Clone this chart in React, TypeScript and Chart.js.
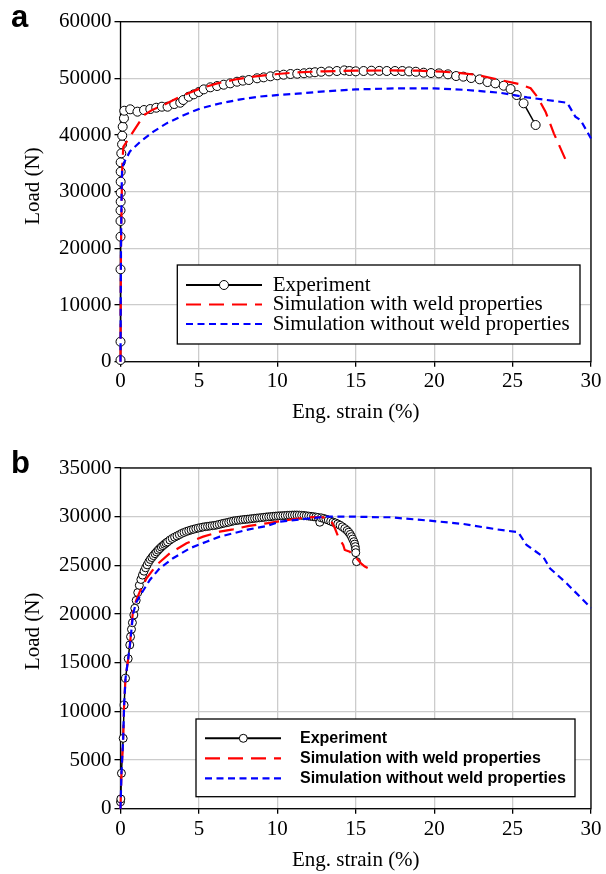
import React, { useEffect, useRef } from 'react';
import { Chart, registerables } from 'chart.js';

Chart.register(...registerables);

const SERIF = "'Liberation Serif', 'Times New Roman', Times, serif";
const SANS = "'Liberation Sans', Arial, Helvetica, sans-serif";
const GRID = '#cccccc';

// ---------- shared labels / ticks ----------
const seriesLabels = [
  'Experiment',
  'Simulation with weld properties',
  'Simulation without weld properties',
];
const xTitle = 'Eng. strain (%)';
const yTitle = 'Load (N)';
const xTicks = [0, 5, 10, 15, 20, 25, 30];
const yTicksA = [0, 10000, 20000, 30000, 40000, 50000, 60000];
const yTicksB = [0, 5000, 10000, 15000, 20000, 25000, 30000, 35000];

// ---------- panel a data: [strain %, load N] ----------
const experimentA: [number, number][] = [
  [0, 300], [0, 3530], [0, 16300], [0, 22060], [0, 24830], [0, 26700], [0.01, 28240],
  [0.01, 29820], [0.01, 31760], [0.01, 33530], [0.01, 35190], [0.05, 36770], [0.1, 38360],
  [0.11, 39880], [0.14, 41470], [0.22, 42950], [0.24, 44290], [0.62, 44540], [1.08, 44120],
  [1.5, 44410], [1.9, 44590], [2.28, 44820], [2.64, 45000], [3.0, 45000], [3.43, 45470],
  [3.81, 45700], [4.0, 46180], [4.35, 46760], [4.67, 47180], [4.99, 47590], [5.31, 48060],
  [5.73, 48420], [6.16, 48650], [6.58, 48880], [7.0, 49120], [7.43, 49410], [7.8, 49600],
  [8.18, 49710], [8.71, 50010], [9.13, 50180], [9.56, 50360], [9.99, 50540], [10.4, 50650],
  [10.84, 50770], [11.27, 50820], [11.7, 50900], [12.06, 51000], [12.4, 51080], [12.8, 51170],
  [13.3, 51230], [13.8, 51300], [14.27, 51410], [14.6, 51300], [15.0, 51240], [15.5, 51300],
  [16.0, 51350], [16.5, 51320], [16.98, 51300], [17.5, 51300], [17.97, 51300], [18.4, 51230],
  [18.83, 51170], [19.33, 51000], [19.8, 50940], [20.3, 50880], [20.88, 50710], [21.4, 50410],
  [21.86, 50300], [22.36, 50060], [22.9, 49830], [23.4, 49350], [23.9, 49120], [24.43, 48700],
  [24.87, 48120], [25.26, 47060], [25.7, 45600], [26.47, 41770],
];
const weldA: [number, number][] = [
  [0, 0], [0.03, 20000], [0.1, 33000], [0.12, 35000], [0.18, 37900], [0.53, 39400],
  [1.49, 43500], [2.0, 44400], [2.97, 45600], [3.8, 46760], [5.1, 48240], [6.17, 49120],
  [7.45, 49880], [8.72, 50410], [10.0, 50770], [11.28, 51060], [13.0, 51250], [15.0, 51350],
  [17.0, 51400], [19.0, 51350], [20.5, 51200], [22.0, 50850], [22.75, 50590], [24.23, 49710],
  [25.4, 49000], [26.15, 48250], [26.57, 46770], [27.1, 44120], [27.63, 40300], [28.48, 35010],
];
const noWeldA: [number, number][] = [
  [0, 0], [0.03, 20000], [0.07, 30000], [0.1, 33800], [0.2, 35000], [0.6, 37100],
  [1.25, 38800], [2.1, 40600], [2.96, 42100], [4.02, 43500], [5.1, 44700], [6.38, 45600],
  [7.66, 46300], [8.93, 46800], [10.2, 47100], [11.28, 47300], [13.0, 47700], [15.0, 48050],
  [17.86, 48250], [20.0, 48250], [22.1, 47950], [24.23, 47450], [25.93, 46650],
  [28.48, 45700], [29.0, 43250], [29.33, 42650], [30.0, 39400],
];

// ---------- panel b data: [strain %, load N] ----------
const experimentB: [number, number][] = [
  [0, 700], [0.02, 1000], [0.06, 3640], [0.17, 7230], [0.23, 10650], [0.32, 13400],
  [0.49, 15410], [0.59, 16820], [0.64, 17670], [0.7, 18430], [0.76, 19110], [0.85, 19900],
  [0.91, 20590], [1.0, 21400], [1.1, 22200], [1.2, 22950], [1.3, 23550], [1.4, 24000],
  [1.5, 24400], [1.6, 24750], [1.7, 25050], [1.8, 25350], [1.9, 25600], [2.0, 25800],
  [2.1, 26000], [2.2, 26200], [2.3, 26380], [2.4, 26560], [2.5, 26720], [2.6, 26880],
  [2.7, 27020], [2.8, 27160], [2.9, 27290], [3.0, 27410], [3.15, 27600], [3.3, 27760],
  [3.45, 27900], [3.6, 28020], [3.75, 28150], [3.9, 28280], [4.05, 28380], [4.2, 28480],
  [4.35, 28560], [4.5, 28640], [4.65, 28700], [4.8, 28770], [4.95, 28830], [5.1, 28880],
  [5.25, 28930], [5.4, 28970], [5.55, 29000], [5.7, 29040], [5.85, 29070], [6.0, 29100],
  [6.15, 29150], [6.3, 29210], [6.45, 29270], [6.6, 29330], [6.75, 29380], [6.9, 29430],
  [7.05, 29500], [7.2, 29560], [7.35, 29600], [7.5, 29630], [7.65, 29660], [7.8, 29690],
  [7.95, 29720], [8.1, 29740], [8.25, 29770], [8.4, 29800], [8.55, 29830], [8.7, 29860],
  [8.85, 29880], [9.0, 29910], [9.15, 29940], [9.3, 29970], [9.45, 29990], [9.6, 30010],
  [9.75, 30040], [9.9, 30060], [10.05, 30080], [10.2, 30090], [10.35, 30100], [10.5, 30120],
  [10.65, 30140], [10.8, 30150], [10.95, 30160], [11.1, 30170], [11.25, 30170], [11.4, 30160],
  [11.55, 30140], [11.7, 30120], [11.85, 30090], [12.0, 30060], [12.15, 30030], [12.3, 30000],
  [12.45, 29960], [12.6, 29920], [12.71, 29430], [12.8, 29880], [12.95, 29820], [13.1, 29740],
  [13.25, 29650], [13.4, 29540], [13.55, 29440], [13.7, 29360], [13.85, 29250], [14.0, 29120],
  [14.15, 28960], [14.3, 28780], [14.45, 28580], [14.55, 28400], [14.65, 28180], [14.73, 27950],
  [14.8, 27700], [14.88, 27430], [14.93, 27180], [14.97, 26920], [14.99, 26620], [15.0, 26300],
  [15.05, 25380],
];
const weldB: [number, number][] = [
  [0, 0], [0.06, 3600], [0.17, 7200], [0.23, 10600], [0.32, 13400], [0.49, 15400],
  [0.6, 16800], [0.8, 20400], [1.0, 21400], [1.23, 22300], [1.66, 23670], [2.3, 25040],
  [3.14, 26240], [4.21, 27270], [5.27, 27950], [6.33, 28460], [7.18, 28700], [8.2, 29050],
  [9.31, 29320], [10.4, 29600], [11.43, 29840], [12.2, 29950], [12.92, 29940], [13.46, 29490],
  [13.67, 28810], [13.88, 27950], [14.2, 27090], [14.3, 26580], [14.62, 26410], [14.83, 26060],
  [15.05, 25720], [15.37, 25140], [15.58, 24870], [15.8, 24700], [15.94, 24180],
];
const noWeldB: [number, number][] = [
  [0, 0], [0.06, 3600], [0.17, 7200], [0.23, 10600], [0.32, 13400], [0.49, 15400],
  [0.6, 16800], [0.8, 20000], [1.0, 21200], [1.34, 22130], [1.87, 23500], [2.5, 24700],
  [3.35, 25730], [4.42, 26750], [5.48, 27430], [6.33, 27950], [7.18, 28290], [8.2, 28700],
  [9.31, 29040], [10.16, 29490], [11.43, 29700], [12.2, 29850], [13.14, 30000], [15.0, 30000],
  [16.54, 29940], [17.17, 29940], [19.73, 29590], [21.85, 29250], [23.98, 28700],
  [25.36, 28400], [25.89, 27090], [26.95, 25890], [27.38, 24700], [28.44, 23160], [30.0, 20620],
];

// ---------- layout specs (positions only) ----------
type Panel = {
  letter: string;
  top: number;
  height: number;
  area: { left: number; right: number; top: number; bottom: number };
  yMax: number;
  yTicks: number[];
  series: [number, number][][];
  pointRadius: number;
  xTickPad: number;
  xTitlePad: number;
  letterPos: [number, number];
  yTitlePos: [number, number];
  legend: {
    x: number; y: number; w: number; h: number; rows: number[];
    x0: number; x1: number; mx: number; tx: number; font: string;
  };
};

const panelA: Panel = {
  letter: 'a',
  top: 0,
  height: 430,
  area: { left: 120.5, right: 591, top: 21.7, bottom: 361.7 },
  yMax: 60000,
  yTicks: yTicksA,
  series: [experimentA, weldA, noWeldA],
  pointRadius: 4.5,
  xTickPad: 2.2,
  xTitlePad: 5.4,
  letterPos: [11, 27],
  yTitlePos: [33, 186],
  legend: {
    x: 177.3, y: 265, w: 402.7, h: 79, rows: [285, 304.5, 324],
    x0: 186, x1: 262, mx: 224, tx: 272.7, font: `21px ${SERIF}`,
  },
};

const panelB: Panel = {
  letter: 'b',
  top: 430,
  height: 444,
  area: { left: 120.5, right: 591, top: 38, bottom: 378.7 },
  yMax: 35000,
  yTicks: yTicksB,
  series: [experimentB, weldB, noWeldB],
  pointRadius: 4,
  xTickPad: 3.2,
  xTitlePad: 0.5,
  letterPos: [11, 43],
  yTitlePos: [33, 201.3],
  legend: {
    x: 196, y: 289, w: 379, h: 77.7, rows: [308.3, 328.3, 348.3],
    x0: 205, x1: 281, mx: 243.3, tx: 300, font: `bold 16px ${SANS}`,
  },
};

function makeDecor(p: Panel) {
  return {
    id: 'decor',
    beforeDatasetsDraw(chart: any) {
      const { ctx, chartArea: a } = chart;
      ctx.save();
      ctx.strokeStyle = '#000';
      ctx.lineWidth = 1.3;
      ctx.strokeRect(a.left, a.top, a.right - a.left, a.bottom - a.top);
      ctx.restore();
    },
    afterDraw(chart: any) {
      const ctx: CanvasRenderingContext2D = chart.ctx;
      ctx.save();
      // panel letter
      ctx.fillStyle = '#000';
      ctx.font = `bold 31px ${SANS}`;
      ctx.textAlign = 'left';
      ctx.textBaseline = 'alphabetic';
      ctx.fillText(p.letter, p.letterPos[0], p.letterPos[1]);
      // y axis title
      ctx.save();
      ctx.translate(p.yTitlePos[0], p.yTitlePos[1]);
      ctx.rotate(-Math.PI / 2);
      ctx.font = `21px ${SERIF}`;
      ctx.textAlign = 'center';
      ctx.textBaseline = 'middle';
      ctx.fillText(yTitle, 0, 0);
      ctx.restore();
      // legend
      const L = p.legend;
      ctx.fillStyle = '#fff';
      ctx.fillRect(L.x, L.y, L.w, L.h);
      ctx.strokeStyle = '#000';
      ctx.lineWidth = 1.3;
      ctx.strokeRect(L.x, L.y, L.w, L.h);
      chart.data.datasets.forEach((ds: any, i: number) => {
        const y = L.rows[i];
        ctx.save();
        ctx.strokeStyle = ds.borderColor;
        ctx.lineWidth = i === 0 ? 2 : ds.borderWidth;
        ctx.setLineDash(ds.borderDash || []);
        ctx.beginPath();
        ctx.moveTo(L.x0, y);
        ctx.lineTo(L.x1, y);
        ctx.stroke();
        ctx.restore();
        if (ds.pointRadius > 0) {
          ctx.beginPath();
          ctx.arc(L.mx, y, ds.pointRadius, 0, Math.PI * 2);
          ctx.fillStyle = '#fff';
          ctx.fill();
          ctx.lineWidth = 1;
          ctx.strokeStyle = '#000';
          ctx.stroke();
        }
        ctx.font = L.font;
        ctx.fillStyle = '#000';
        ctx.textAlign = 'left';
        ctx.textBaseline = 'middle';
        ctx.fillText(ds.label, L.tx, y);
      });
      ctx.restore();
    },
  };
}

function PanelChart({ p }: { p: Panel }) {
  const ref = useRef<HTMLCanvasElement>(null);
  useEffect(() => {
    const canvas = ref.current;
    if (!canvas) return;
    const toXY = (arr: [number, number][]) => arr.map(([x, y]) => ({ x, y }));
    const tickFont = { family: SERIF, size: 21 };
    const chart = new Chart(canvas, {
      type: 'scatter',
      data: {
        datasets: [
          {
            label: seriesLabels[0],
            data: toXY(p.series[0]),
            showLine: true,
            borderColor: '#000000',
            borderWidth: 1.5,
            pointRadius: p.pointRadius,
            pointBackgroundColor: '#ffffff',
            pointBorderColor: '#000000',
            pointBorderWidth: 1,
            order: 3,
            clip: false,
          },
          {
            label: seriesLabels[1],
            data: toXY(p.series[1]),
            showLine: true,
            borderColor: '#ff0000',
            borderWidth: 2.2,
            borderDash: [15, 8],
            pointRadius: 0,
            order: 2,
            clip: false,
          },
          {
            label: seriesLabels[2],
            data: toXY(p.series[2]),
            showLine: true,
            borderColor: '#0000ff',
            borderWidth: 2.2,
            borderDash: [7, 4.5],
            pointRadius: 0,
            order: 1,
            clip: false,
          },
        ] as any,
      },
      options: {
        animation: false,
        responsive: false,
        devicePixelRatio: 1,
        events: [],
        layout: {
          padding: { left: 0, right: 606 - p.area.right, top: p.area.top, bottom: 0 },
        },
        plugins: { legend: { display: false }, tooltip: { enabled: false } },
        scales: {
          x: {
            type: 'linear',
            min: 0,
            max: 30,
            afterBuildTicks: (s: any) => {
              s.ticks = xTicks.map((v) => ({ value: v }));
            },
            afterFit: (s: any) => {
              s.height = p.height - p.area.bottom;
            },
            grid: { color: GRID, lineWidth: 1.3, tickColor: '#000', tickLength: 5, drawTicks: true },
            border: { display: false },
            ticks: {
              color: '#000',
              font: tickFont,
              padding: p.xTickPad,
              maxRotation: 0,
              autoSkip: false,
              callback: (v: any) => String(v),
            },
            title: {
              display: true,
              text: xTitle,
              color: '#000',
              font: tickFont,
              padding: { top: 0, bottom: p.xTitlePad },
            },
          },
          y: {
            type: 'linear',
            min: 0,
            max: p.yMax,
            afterBuildTicks: (s: any) => {
              s.ticks = p.yTicks.map((v) => ({ value: v }));
            },
            afterFit: (s: any) => {
              s.width = p.area.left;
            },
            grid: { color: GRID, lineWidth: 1.3, tickColor: '#000', tickLength: 6, drawTicks: true },
            border: { display: false },
            ticks: {
              color: '#000',
              font: tickFont,
              padding: 3,
              autoSkip: false,
              callback: (v: any) => String(v),
            },
            title: { display: false },
          },
        },
      } as any,
      plugins: [makeDecor(p)],
    });
    return () => chart.destroy();
  }, [p]);
  return (
    <canvas
      ref={ref}
      width={606}
      height={p.height}
      style={{ position: 'absolute', left: 0, top: p.top, width: 606, height: p.height, display: 'block' }}
    />
  );
}

export default function App() {
  return (
    <div style={{ position: 'absolute', left: 0, top: 0, width: 606, height: 874, background: '#fff' }}>
      <PanelChart p={panelA} />
      <PanelChart p={panelB} />
    </div>
  );
}
